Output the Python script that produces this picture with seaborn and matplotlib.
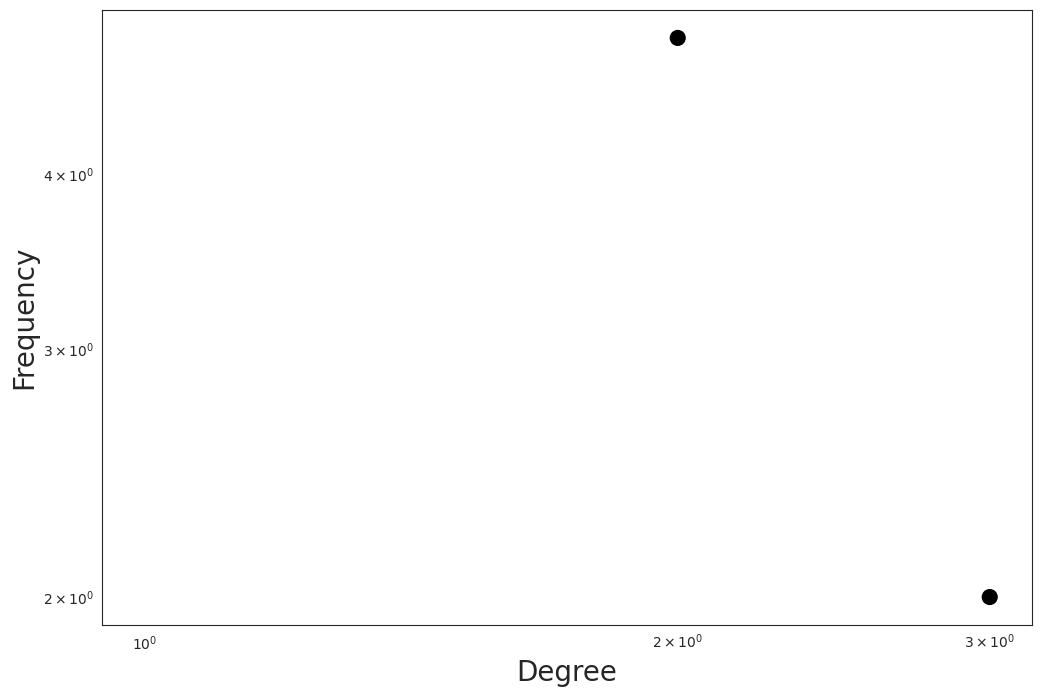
import matplotlib
matplotlib.use("Agg")
import matplotlib.pyplot as plt
import seaborn as sns
import numpy as np
import pandas as pd

# degree distribution (degree 1 has zero count -> not shown on log axes)
degrees = [1, 2, 3]
frequency = [0, 5, 2]

sns.set_style("white")

df = pd.DataFrame({"degree": degrees, "frequency": frequency})
shown = df[df["frequency"] > 0]

fig, ax = plt.subplots(figsize=(10.42, 6.97), dpi=100)
fig.subplots_adjust(left=0.098, right=0.9904, top=0.9857, bottom=0.1033)

ax.set_xscale("log")
ax.set_yscale("log")
sns.scatterplot(data=shown, x="degree", y="frequency", ax=ax,
                color="black", s=135, edgecolor="none")

# keep the full degree range (including the zero-count degree) in view
lx = np.log10([df["degree"].min(), df["degree"].max()])
pad = (lx[1] - lx[0]) * 0.05
ax.set_xlim(10 ** (lx[0] - pad), 10 ** (lx[1] + pad))
ly = np.log10([shown["frequency"].min(), shown["frequency"].max()])
pad = (ly[1] - ly[0]) * 0.05
ax.set_ylim(10 ** (ly[0] - pad), 10 ** (ly[1] + pad))

ax.set_xlabel("Degree", fontsize=20)
ax.set_ylabel("Frequency", fontsize=20)

plt.savefig("out.png", dpi=100)
